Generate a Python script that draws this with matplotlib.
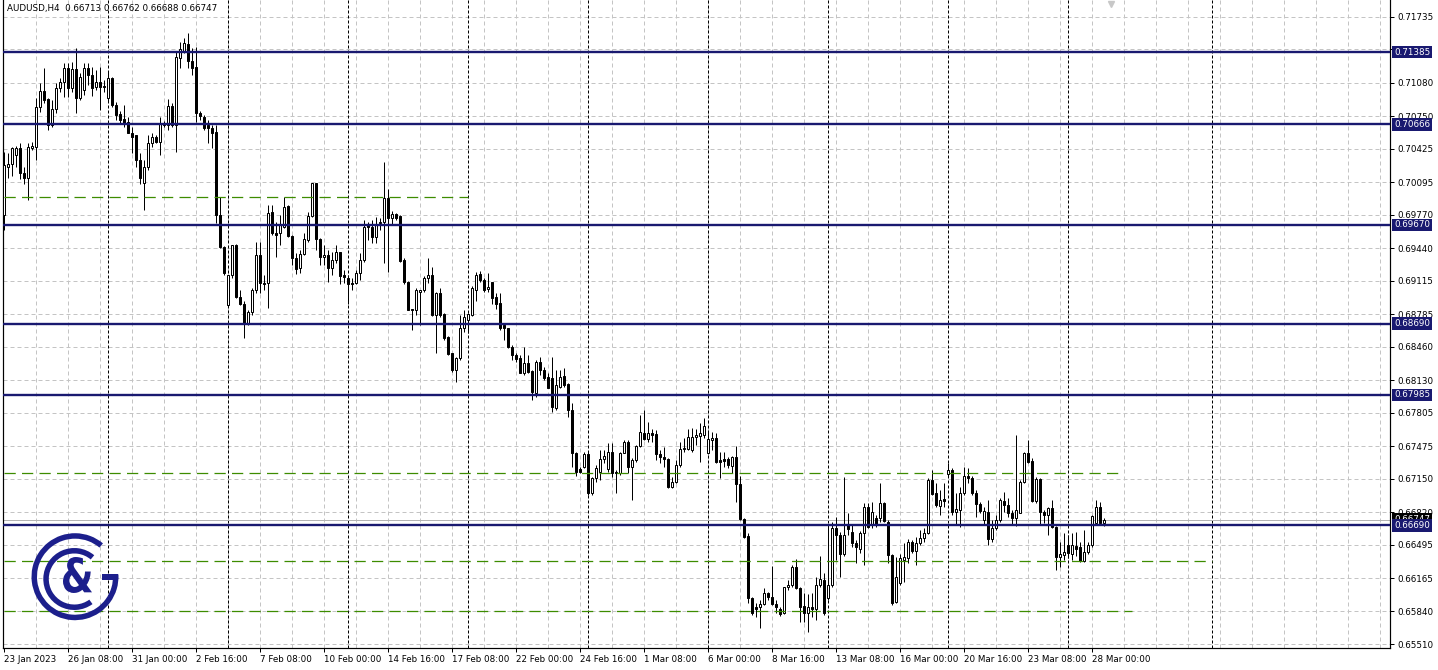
import matplotlib
matplotlib.use("Agg")
import matplotlib.pyplot as plt
import numpy as np
from matplotlib.patches import Wedge, Rectangle, PathPatch
from matplotlib.textpath import TextPath
from matplotlib.font_manager import FontProperties
from matplotlib.transforms import Affine2D, blended_transform_factory

plt.rcParams['font.family'] = 'DejaVu Sans'

symbol = "AUDUSD,H4"

# H4 bars, first visible bar is 23 Jan 2023 16:00
opens = [
    0.6977, 0.7024, 0.7027, 0.7036, 0.7043, 0.7018, 0.7014, 0.7043, 0.7044, 0.7084,
    0.7100, 0.7092, 0.7066, 0.7082, 0.7103, 0.7109, 0.7123, 0.7103, 0.7122, 0.7093,
    0.7101, 0.7123, 0.7116, 0.7104, 0.7109, 0.7105, 0.7093, 0.7113, 0.7086, 0.7077,
    0.7072, 0.7069, 0.7058, 0.7056, 0.7031, 0.7009, 0.7024, 0.7048, 0.7054, 0.7049,
    0.7066, 0.7066, 0.7085, 0.7066, 0.7133, 0.7140, 0.7146, 0.7130, 0.7124, 0.7078,
    0.7074, 0.7066, 0.7063, 0.7059, 0.6977, 0.6945, 0.6888, 0.6917, 0.6947, 0.6895,
    0.6889, 0.6870, 0.6881, 0.6902, 0.6937, 0.6909, 0.6909, 0.6980, 0.6959, 0.6959,
    0.6965, 0.6986, 0.6956, 0.6934, 0.6924, 0.6938, 0.6952, 0.6976, 0.7009, 0.6953,
    0.6935, 0.6937, 0.6924, 0.6932, 0.6940, 0.6917, 0.6914, 0.6909, 0.6909, 0.6919,
    0.6932, 0.6967, 0.6965, 0.6955, 0.6969, 0.6970, 0.6994, 0.6974, 0.6978, 0.6976,
    0.6932, 0.6910, 0.6884, 0.6883, 0.6900, 0.6902, 0.6914, 0.6917, 0.6878, 0.6899,
    0.6879, 0.6856, 0.6840, 0.6823, 0.6835, 0.6865, 0.6873, 0.6878, 0.6902, 0.6918,
    0.6912, 0.6903, 0.6910, 0.6895, 0.6890, 0.6868, 0.6865, 0.6846, 0.6838, 0.6835,
    0.6820, 0.6830, 0.6822, 0.6800, 0.6831, 0.6823, 0.6816, 0.6815, 0.6785, 0.6806,
    0.6817, 0.6809, 0.6783, 0.6741, 0.6725, 0.6727, 0.6740, 0.6701, 0.6716, 0.6722,
    0.6735, 0.6725, 0.6742, 0.6722, 0.6721, 0.6741, 0.6752, 0.6727, 0.6734, 0.6748,
    0.6761, 0.6755, 0.6761, 0.6760, 0.6740, 0.6737, 0.6735, 0.6707, 0.6712, 0.6729,
    0.6745, 0.6745, 0.6744, 0.6757, 0.6758, 0.6759, 0.6741, 0.6754, 0.6756, 0.6734,
    0.6735, 0.6735, 0.6728, 0.6737, 0.6710, 0.6675, 0.6658, 0.6597, 0.6588, 0.6588,
    0.6591, 0.6602, 0.6598, 0.6591, 0.6586, 0.6582, 0.6608, 0.6610, 0.6628, 0.6607,
    0.6589, 0.6582, 0.6588, 0.6586, 0.6610, 0.6615, 0.6597, 0.6610, 0.6666, 0.6659,
    0.6641, 0.6669, 0.6662, 0.6651, 0.6646, 0.6661, 0.6687, 0.6669, 0.6676, 0.6676,
    0.6691, 0.6672, 0.6640, 0.6593, 0.6612, 0.6635, 0.6637, 0.6652, 0.6644, 0.6651,
    0.6656, 0.6661, 0.6714, 0.6701, 0.6688, 0.6695, 0.6720, 0.6724, 0.6682, 0.6684,
    0.6701, 0.6718, 0.6716, 0.6701, 0.6690, 0.6674, 0.6682, 0.6655, 0.6666, 0.6674,
    0.6693, 0.6689, 0.6681, 0.6676, 0.6681, 0.6712, 0.6741, 0.6733, 0.6693, 0.6715,
    0.6682, 0.6679, 0.6686, 0.6667, 0.6638, 0.6640, 0.6649, 0.6641, 0.6648, 0.6647,
    0.6634, 0.6643, 0.6649, 0.6671, 0.6687, 0.66713,
]
highs = [
    0.7039, 0.7038, 0.7044, 0.7045, 0.7048, 0.7024, 0.7048, 0.7049, 0.7093, 0.7108,
    0.7123, 0.7093, 0.7091, 0.7108, 0.7113, 0.7128, 0.7128, 0.7129, 0.7142, 0.7118,
    0.7128, 0.7128, 0.7124, 0.7121, 0.7124, 0.7111, 0.7119, 0.7114, 0.7089, 0.7080,
    0.7086, 0.7074, 0.7064, 0.7056, 0.7038, 0.7031, 0.7056, 0.7058, 0.7056, 0.7074,
    0.7070, 0.7092, 0.7088, 0.7140, 0.7148, 0.7152, 0.7157, 0.7142, 0.7143, 0.7080,
    0.7076, 0.7071, 0.7066, 0.7066, 0.6995, 0.6946, 0.6917, 0.6947, 0.6948, 0.6902,
    0.6892, 0.6883, 0.6904, 0.6950, 0.6950, 0.6917, 0.6987, 0.6987, 0.6970, 0.6977,
    0.6995, 0.6987, 0.6957, 0.6939, 0.6942, 0.6959, 0.6980, 0.7009, 0.7009, 0.6954,
    0.6947, 0.6942, 0.6940, 0.6947, 0.6940, 0.6922, 0.6917, 0.6914, 0.6922, 0.6939,
    0.6972, 0.6970, 0.6972, 0.6975, 0.6974, 0.7029, 0.7003, 0.6981, 0.6979, 0.6977,
    0.6934, 0.6911, 0.6884, 0.6904, 0.6902, 0.6916, 0.6934, 0.6925, 0.6900, 0.6904,
    0.6880, 0.6857, 0.6840, 0.6836, 0.6878, 0.6883, 0.6880, 0.6906, 0.6920, 0.6921,
    0.6914, 0.6919, 0.6910, 0.6899, 0.6899, 0.6868, 0.6865, 0.6848, 0.6840, 0.6838,
    0.6846, 0.6838, 0.6823, 0.6833, 0.6836, 0.6826, 0.6820, 0.6836, 0.6823, 0.6823,
    0.6825, 0.6810, 0.6790, 0.6742, 0.6727, 0.6742, 0.6742, 0.6717, 0.6729, 0.6744,
    0.6744, 0.6751, 0.6751, 0.6724, 0.6742, 0.6754, 0.6754, 0.6736, 0.6749, 0.6778,
    0.6783, 0.6771, 0.6765, 0.6764, 0.6744, 0.6747, 0.6736, 0.6717, 0.6734, 0.6752,
    0.6756, 0.6765, 0.6766, 0.6765, 0.6770, 0.6775, 0.6763, 0.6762, 0.6761, 0.6742,
    0.6742, 0.6737, 0.6738, 0.6748, 0.6718, 0.6676, 0.6661, 0.6598, 0.6592, 0.6595,
    0.6607, 0.6603, 0.6629, 0.6595, 0.6588, 0.6608, 0.6615, 0.6630, 0.6636, 0.6608,
    0.6602, 0.6601, 0.6602, 0.6618, 0.6639, 0.6622, 0.6667, 0.6672, 0.6677, 0.6662,
    0.6717, 0.6681, 0.6669, 0.6654, 0.6663, 0.6691, 0.6691, 0.6692, 0.6679, 0.6711,
    0.6692, 0.6674, 0.6641, 0.6638, 0.6641, 0.6651, 0.6655, 0.6654, 0.6657, 0.6664,
    0.6666, 0.6716, 0.6724, 0.6711, 0.6704, 0.6711, 0.6731, 0.6726, 0.6701, 0.6707,
    0.6727, 0.6726, 0.6718, 0.6704, 0.6692, 0.6687, 0.6694, 0.6674, 0.6679, 0.6696,
    0.6702, 0.6696, 0.6684, 0.6759, 0.6714, 0.6742, 0.6754, 0.6736, 0.6717, 0.6716,
    0.6684, 0.6687, 0.6694, 0.6668, 0.6652, 0.6661, 0.6659, 0.6661, 0.6662, 0.6652,
    0.6664, 0.6652, 0.6679, 0.6694, 0.6692, 0.66762,
]
lows = [
    0.6962, 0.7014, 0.7016, 0.7024, 0.7013, 0.7008, 0.6992, 0.7041, 0.7031, 0.7079,
    0.7088, 0.7061, 0.7064, 0.7078, 0.7099, 0.7094, 0.7094, 0.7099, 0.7078, 0.7091,
    0.7096, 0.7106, 0.7095, 0.7101, 0.7081, 0.7099, 0.7089, 0.7084, 0.7071, 0.7068,
    0.7064, 0.7058, 0.7038, 0.7024, 0.7008, 0.6982, 0.7021, 0.7044, 0.7048, 0.7036,
    0.7064, 0.7061, 0.7064, 0.7039, 0.7123, 0.7138, 0.7123, 0.7116, 0.7069, 0.7071,
    0.7061, 0.7048, 0.7043, 0.6969, 0.6944, 0.6917, 0.6887, 0.6914, 0.6894, 0.6888,
    0.6855, 0.6868, 0.6878, 0.6899, 0.6899, 0.6902, 0.6885, 0.6957, 0.6935, 0.6947,
    0.6964, 0.6955, 0.6927, 0.6918, 0.6919, 0.6937, 0.6950, 0.6975, 0.6942, 0.6927,
    0.6927, 0.6910, 0.6917, 0.6929, 0.6908, 0.6909, 0.6889, 0.6902, 0.6908, 0.6912,
    0.6930, 0.6952, 0.6949, 0.6949, 0.6962, 0.6929, 0.6920, 0.6967, 0.6972, 0.6930,
    0.6908, 0.6883, 0.6863, 0.6878, 0.6868, 0.6900, 0.6909, 0.6877, 0.6840, 0.6876,
    0.6853, 0.6838, 0.6821, 0.6811, 0.6833, 0.6861, 0.6860, 0.6877, 0.6892, 0.6910,
    0.6900, 0.6900, 0.6889, 0.6884, 0.6863, 0.6853, 0.6845, 0.6833, 0.6831, 0.6820,
    0.6818, 0.6820, 0.6793, 0.6796, 0.6818, 0.6813, 0.6805, 0.6781, 0.6783, 0.6805,
    0.6806, 0.6776, 0.6727, 0.6718, 0.6721, 0.6726, 0.6699, 0.6699, 0.6712, 0.6714,
    0.6731, 0.6722, 0.6717, 0.6701, 0.6719, 0.6741, 0.6721, 0.6694, 0.6732, 0.6747,
    0.6754, 0.6752, 0.6752, 0.6734, 0.6731, 0.6727, 0.6706, 0.6706, 0.6711, 0.6727,
    0.6742, 0.6744, 0.6742, 0.6749, 0.6732, 0.6756, 0.6740, 0.6744, 0.6731, 0.6716,
    0.6727, 0.6726, 0.6721, 0.6692, 0.6674, 0.6656, 0.6592, 0.6580, 0.6578, 0.6567,
    0.6590, 0.6595, 0.6590, 0.6582, 0.6579, 0.6581, 0.6605, 0.6608, 0.6606, 0.6573,
    0.6573, 0.6563, 0.6578, 0.6575, 0.6608, 0.6580, 0.6595, 0.6608, 0.6635, 0.6618,
    0.6639, 0.6659, 0.6647, 0.6632, 0.6642, 0.6630, 0.6666, 0.6666, 0.6667, 0.6672,
    0.6672, 0.6632, 0.6590, 0.6592, 0.6610, 0.6613, 0.6632, 0.6642, 0.6630, 0.6649,
    0.6652, 0.6660, 0.6699, 0.6687, 0.6679, 0.6687, 0.6717, 0.6679, 0.6669, 0.6667,
    0.6699, 0.6711, 0.6699, 0.6677, 0.6681, 0.6669, 0.6649, 0.6652, 0.6664, 0.6672,
    0.6682, 0.6677, 0.6669, 0.6668, 0.6681, 0.6711, 0.6731, 0.6692, 0.6691, 0.6669,
    0.6671, 0.6659, 0.6666, 0.6625, 0.6628, 0.6635, 0.6637, 0.6635, 0.6639, 0.6633,
    0.6633, 0.6641, 0.6647, 0.6669, 0.6669, 0.66688,
]
closes = [
    0.7026, 0.7027, 0.7043, 0.7043, 0.7018, 0.7014, 0.7044, 0.7045, 0.7084, 0.7100,
    0.7091, 0.7066, 0.7082, 0.7103, 0.7109, 0.7123, 0.7103, 0.7122, 0.7093, 0.7114,
    0.7123, 0.7116, 0.7103, 0.7109, 0.7104, 0.7104, 0.7113, 0.7086, 0.7076, 0.7071,
    0.7068, 0.7058, 0.7054, 0.7031, 0.7014, 0.7024, 0.7048, 0.7054, 0.7049, 0.7068,
    0.7068, 0.7085, 0.7066, 0.7134, 0.7141, 0.7147, 0.7130, 0.7123, 0.7078, 0.7075,
    0.7063, 0.7063, 0.7058, 0.6977, 0.6945, 0.6919, 0.6917, 0.6947, 0.6895, 0.6889,
    0.6870, 0.6881, 0.6902, 0.6937, 0.6909, 0.6908, 0.6979, 0.6959, 0.6957, 0.6967,
    0.6985, 0.6956, 0.6934, 0.6923, 0.6938, 0.6953, 0.6976, 0.7009, 0.6953, 0.6935,
    0.6937, 0.6924, 0.6932, 0.6940, 0.6916, 0.6915, 0.6908, 0.6908, 0.6919, 0.6932,
    0.6965, 0.6965, 0.6955, 0.6967, 0.6970, 0.6994, 0.6974, 0.6978, 0.6974, 0.6931,
    0.6910, 0.6883, 0.6883, 0.6902, 0.6902, 0.6914, 0.6917, 0.6878, 0.6899, 0.6878,
    0.6855, 0.6839, 0.6823, 0.6835, 0.6865, 0.6876, 0.6879, 0.6904, 0.6917, 0.6912,
    0.6902, 0.6905, 0.6894, 0.6889, 0.6865, 0.6865, 0.6846, 0.6838, 0.6834, 0.6820,
    0.6830, 0.6821, 0.6801, 0.6831, 0.6823, 0.6815, 0.6805, 0.6786, 0.6808, 0.6816,
    0.6808, 0.6783, 0.6741, 0.6722, 0.6722, 0.6740, 0.6701, 0.6716, 0.6726, 0.6735,
    0.6738, 0.6742, 0.6721, 0.6721, 0.6741, 0.6752, 0.6727, 0.6734, 0.6748, 0.6762,
    0.6755, 0.6761, 0.6759, 0.6740, 0.6737, 0.6735, 0.6707, 0.6712, 0.6729, 0.6745,
    0.6746, 0.6757, 0.6757, 0.6759, 0.6761, 0.6768, 0.6755, 0.6756, 0.6732, 0.6732,
    0.6733, 0.6729, 0.6737, 0.6710, 0.6675, 0.6657, 0.6597, 0.6582, 0.6586, 0.6591,
    0.6602, 0.6598, 0.6591, 0.6588, 0.6581, 0.6608, 0.6610, 0.6628, 0.6607, 0.6588,
    0.6582, 0.6588, 0.6586, 0.6610, 0.6616, 0.6582, 0.6610, 0.6666, 0.6659, 0.6641,
    0.6659, 0.6665, 0.6651, 0.6647, 0.6661, 0.6687, 0.6667, 0.6682, 0.6669, 0.6691,
    0.6673, 0.6640, 0.6592, 0.6618, 0.6637, 0.6638, 0.6652, 0.6644, 0.6651, 0.6656,
    0.6661, 0.6714, 0.6700, 0.6689, 0.6694, 0.6693, 0.6724, 0.6682, 0.6685, 0.6701,
    0.6718, 0.6716, 0.6701, 0.6690, 0.6683, 0.6683, 0.6655, 0.6666, 0.6674, 0.6694,
    0.6689, 0.6681, 0.6676, 0.6684, 0.6712, 0.6741, 0.6732, 0.6693, 0.6715, 0.6682,
    0.6679, 0.6686, 0.6667, 0.6638, 0.6641, 0.6643, 0.6642, 0.6649, 0.6646, 0.6634,
    0.6643, 0.6649, 0.6678, 0.6687, 0.6671, 0.66747,
]

time_labels = ["23 Jan 2023", "26 Jan 08:00", "31 Jan 00:00", "2 Feb 16:00",
               "7 Feb 08:00", "10 Feb 00:00", "14 Feb 16:00", "17 Feb 08:00",
               "22 Feb 00:00", "24 Feb 16:00", "1 Mar 08:00", "6 Mar 00:00",
               "8 Mar 16:00", "13 Mar 08:00", "16 Mar 00:00", "20 Mar 16:00",
               "23 Mar 08:00", "28 Mar 00:00"]
price_ticks = [0.71735, 0.71410, 0.71080, 0.70750, 0.70425, 0.70095, 0.69770,
               0.69440, 0.69115, 0.68785, 0.68460, 0.68130, 0.67805, 0.67475,
               0.67150, 0.66820, 0.66495, 0.66165, 0.65840, 0.65510]

# analyst levels
levels = [0.71385, 0.70666, 0.69670, 0.68690, 0.67985, 0.66690]
dash_levels = [0.69945, 0.67207, 0.66335, 0.65837]
dash_end_bar = [116, 279, 302, 282]
vline_bar = 302

navy = '#191970'
green = '#3d8c00'
logo_col = '#1c1f8c'
W, H = 1438, 670
px = 0.72  # one pixel in points at dpi 100

fig = plt.figure(figsize=(W / 100, H / 100), dpi=100, facecolor='white')
ax = fig.add_axes([3 / W, 22 / H, 1387 / W, 648 / H])

o = np.array(opens)
c = np.array(closes)
x = np.arange(len(c))
up = c >= o

ax.set_xlim(-0.2, -0.2 + 1387 / 4)
ax.set_ylim(0.65473, 0.71901)

# grid
for p in price_ticks:
    ax.axhline(p, color='#c4c4c4', lw=px, dashes=(4, 3), zorder=1)
for k in range(8, 347, 8):
    ax.axvline(k, color='#c4c4c4', lw=px, dashes=(4, 3), zorder=1)
# week separators
for k in range(26, len(c), 30):
    ax.axvline(k, color='black', lw=px, dashes=(3, 2), zorder=1.5)
ax.axvline(vline_bar, color='black', lw=px, dashes=(3, 2), zorder=1.5)

# bid line
ax.axhline(closes[-1], color='#b4b4b4', lw=px, zorder=1.6)

# candles
ax.vlines(x, lows, highs, color='black', lw=px, zorder=3)
ax.bar(x[up], (c - o)[up], bottom=o[up], width=0.55, color='white',
       edgecolor='black', linewidth=px, zorder=4)
ax.bar(x[~up], (o - c)[~up], bottom=c[~up], width=0.55, color='black',
       edgecolor='black', linewidth=px, zorder=4)

# objects
for p in levels:
    ax.axhline(p, color=navy, lw=1.7, zorder=5)
for p, end in zip(dash_levels, dash_end_bar):
    ax.plot([0, end], [p, p], color=green, lw=0.9, dashes=(9, 5), zorder=5)

for s in ['left', 'bottom', 'right']:
    ax.spines[s].set_linewidth(px * 1.2)
ax.spines['top'].set_visible(False)

ax.yaxis.tick_right()
ax.set_yticks(price_ticks)
# the 0.71410 label sits under the 0.71385 level box
ax.set_yticklabels(["" if p == 0.71410 else f"{p:.5f}" for p in price_ticks])
ax.set_xticks(list(range(0, 16 * len(time_labels), 16)))
ax.set_xticklabels(time_labels, ha='left')
ax.tick_params(axis='y', length=3, width=px, pad=2, labelsize=6.3)
ax.tick_params(axis='x', length=3, width=px, pad=2, labelsize=6.3)

tr = blended_transform_factory(ax.transAxes, ax.transData)
ax.text(1.0 + 4 / 1387, closes[-1], f"{closes[-1]:.5f}", transform=tr,
        va='center', ha='left', color='white', fontsize=6.3, zorder=6,
        clip_on=False, bbox=dict(boxstyle='square,pad=0.2', fc='black', ec='none'))
for p in levels:
    ax.text(1.0 + 4 / 1387, p, f"{p:.5f}", transform=tr, va='center', ha='left',
            color='white', fontsize=6.3, zorder=7, clip_on=False,
            bbox=dict(boxstyle='square,pad=0.2', fc=navy, ec='none'))

fig.text(7 / W, 1 - 9 / H,
         f"{symbol}  {opens[-1]:.5f} {highs[-1]:.5f} {lows[-1]:.5f} {closes[-1]:.5f}",
         fontsize=6.3, va='center', ha='left')

# chart shift marker
fig.lines.append(plt.Line2D([1111 / W], [1 - 4 / H], marker='v', color='#c8c8c8',
                            markersize=4.5, transform=fig.transFigure))

# logo
lax = fig.add_axes([25 / W, 43 / H, 100 / W, 100 / H])
lax.set_xlim(0, 100)
lax.set_ylim(0, 100)
lax.axis('off')
lax.add_patch(Wedge((50, 50.3), 43.5, 50, 363, width=5.5, fc=logo_col, ec='none'))
lax.add_patch(Rectangle((76.7, 47), 16.6, 6, fc=logo_col, ec='none'))
lax.add_patch(Wedge((49.3, 48), 31, 50, 306, width=5.5, fc=logo_col, ec='none'))
tp = TextPath((0, 0), '&', prop=FontProperties(family='DejaVu Sans', weight='bold'), size=1)
bb = tp.get_extents()
amp = Affine2D().translate(-bb.x0, -bb.y0).scale(29 / bb.width, 36 / bb.height).translate(38, 34)
lax.add_patch(PathPatch(amp.transform_path(tp), fc=logo_col, ec='none'))

fig.savefig('out.png', dpi=100, facecolor='white')
